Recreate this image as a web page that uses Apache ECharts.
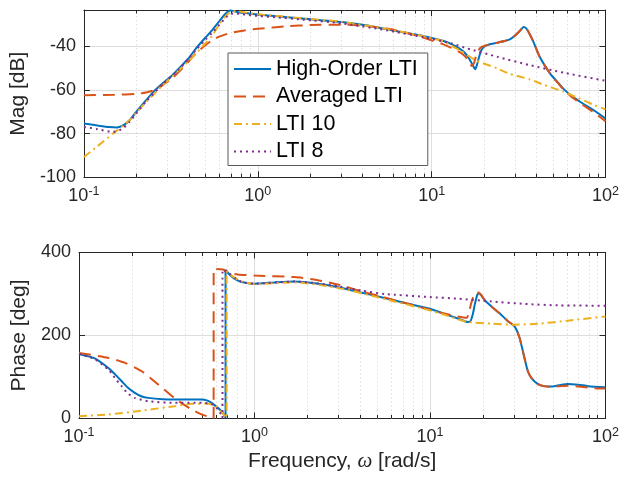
<!DOCTYPE html>
<html><head><meta charset="utf-8">
<script src="https://cdn.jsdelivr.net/npm/echarts@6/dist/echarts.min.js"></script>
<style>html,body{margin:0;padding:0;background:#fff}#c{width:622px;height:486px}</style>
</head><body><div id="c"></div>
<script>
const seriesNames = ['High-Order LTI', 'Averaged LTI', 'LTI 10', 'LTI 8'];
const xTickDecades = [0.1, 1, 10, 100];
const magTicks = [-100, -80, -60, -40];
const phaseTicks = [0, 200, 400];

// Magnitude [dB] vs frequency [rad/s]
const magHighOrder = [[0.1,-75.4],[0.12,-76.3],[0.14,-77.0],[0.155,-77.2],[0.17,-76.0],[0.183,-73.9],[0.2,-70.0],[0.228,-64.7],[0.25,-61.0],[0.283,-57.1],[0.32,-53.5],[0.352,-50.2],[0.4,-45.5],[0.438,-41.3],[0.5,-36.0],[0.545,-32.7],[0.6,-28.6],[0.64,-25.8],[0.67,-24.2],[0.693,-23.6],[0.72,-23.8],[0.76,-24.3],[0.844,-24.8],[1.0,-25.5],[1.3,-26.3],[1.8,-27.3],[3.05,-28.9],[4.2,-30.4],[5.51,-32.2],[7.3,-34.0],[9.31,-35.6],[11.6,-37.5],[13.0,-39.0],[14.4,-41.0],[15.5,-43.0],[16.4,-45.6],[17.2,-48.5],[17.8,-50.5],[18.3,-48.0],[18.8,-44.5],[19.3,-41.8],[20.2,-40.0],[21.4,-39.2],[23.8,-38.4],[26.6,-37.5],[28.5,-36.6],[30.3,-35.0],[32.3,-32.8],[33.8,-31.2],[35.0,-31.8],[36.1,-33.5],[38.5,-38.0],[41.8,-44.8],[47.9,-52.4],[53.5,-56.8],[57.3,-59.5],[64.0,-62.8],[71.3,-65.4],[80.0,-67.9],[88.2,-70.0],[100,-73.1]];
const magAveraged = [[0.1,-62.4],[0.15,-62.2],[0.2,-61.8],[0.228,-61.2],[0.26,-59.8],[0.283,-57.8],[0.32,-54.8],[0.352,-51.7],[0.4,-47.0],[0.438,-43.4],[0.5,-39.5],[0.545,-37.3],[0.6,-35.6],[0.677,-34.2],[0.8,-33.0],[1.0,-32.0],[1.5,-30.8],[2.0,-30.3],[3.05,-30.1],[4.0,-30.6],[5.5,-31.9],[7.0,-33.6],[9.31,-36.5],[11.6,-39.0],[14.4,-42.6],[15.5,-44.5],[16.4,-47.0],[17.0,-49.0],[17.5,-47.8],[18.0,-44.5],[18.6,-41.8],[19.5,-40.2],[21.4,-39.2],[23.8,-38.4],[26.6,-37.5],[28.5,-36.6],[30.3,-35.0],[32.3,-32.8],[33.8,-31.2],[35.0,-31.8],[36.1,-33.5],[38.5,-38.0],[41.8,-44.8],[47.9,-52.4],[53.5,-57.0],[57.3,-59.8],[64.0,-63.2],[71.3,-66.0],[80.0,-68.7],[88.2,-71.0],[100,-74.3]];
const magLTI10 = [[0.1,-90.7],[0.12,-85.7],[0.147,-80.0],[0.165,-76.8],[0.183,-73.9],[0.2,-70.5],[0.228,-65.5],[0.283,-58.0],[0.352,-51.0],[0.438,-43.6],[0.5,-38.6],[0.545,-35.3],[0.6,-30.0],[0.647,-26.6],[0.7,-24.2],[0.76,-24.0],[0.85,-24.6],[1.0,-25.4],[1.3,-26.2],[1.8,-27.2],[3.05,-28.8],[5.51,-32.1],[9.31,-35.7],[11.6,-37.7],[14.6,-42.0],[18.0,-46.5],[23.8,-50.1],[28.0,-52.6],[36.5,-55.1],[43.0,-57.3],[57.3,-60.8],[70.0,-63.8],[85.0,-66.7],[100,-68.9]];
const magLTI8 = [[0.1,-76.9],[0.12,-78.0],[0.147,-79.2],[0.167,-77.7],[0.183,-74.6],[0.2,-70.8],[0.228,-65.2],[0.283,-57.5],[0.352,-50.6],[0.438,-42.0],[0.5,-37.0],[0.545,-33.9],[0.6,-30.2],[0.66,-26.6],[0.7,-25.2],[0.75,-25.0],[0.844,-25.5],[1.0,-26.1],[1.3,-26.8],[1.8,-27.8],[3.05,-29.5],[5.51,-32.7],[9.31,-36.1],[12.9,-38.6],[16.0,-41.0],[23.8,-44.8],[36.5,-48.6],[57.3,-52.1],[100,-55.8]];

// Phase [deg] vs frequency [rad/s]
const phaseHighOrder = [[0.1,155.6],[0.123,145],[0.147,121.9],[0.16,107],[0.175,89.8],[0.19,74],[0.208,61.8],[0.228,53],[0.248,49.7],[0.3,46.5],[0.352,45.7],[0.5,45.7],[0.54,43],[0.569,37.7],[0.61,28],[0.647,17.6],[0.67,9],[0.684,2],[0.684,358.4],[0.71,350],[0.74,342.3],[0.79,334],[0.844,328.8],[0.92,326],[1.0,324.7],[1.3,328],[1.69,330.3],[2.2,326],[3.05,315.8],[4.1,303],[5.51,290.3],[7.4,277],[9.97,264.6],[12.5,250],[14.4,241],[16.4,232.6],[16.9,233],[17.5,250],[18.0,275],[18.5,295],[18.9,302.3],[19.6,297],[20.5,285],[22.4,270],[25,253],[27.6,235.7],[30.3,222],[32.4,194],[34.7,141.9],[36.1,113.8],[37.8,97.8],[41,83.4],[44.4,78],[48.6,77],[54,80],[60.8,83.4],[70,81.5],[79.5,78],[100,75.3]];
const phaseAveraged = [[0.1,158],[0.147,146],[0.183,134],[0.228,113.8],[0.283,81.8],[0.352,48.1],[0.438,21.6],[0.5,10],[0.545,4.5],[0.585,1.5],[0.585,360],[0.66,359],[0.72,351],[0.8,347],[1.0,344.5],[1.69,340.8],[2.26,334],[3.05,322],[4.1,306],[5.51,291.8],[7.4,277],[9.97,262],[12,253],[14.4,246],[16.2,243],[16.6,252],[17.1,275],[17.6,292],[18.2,302],[18.7,304],[19.6,297],[20.5,285],[22.4,270],[25,253],[27.6,235.7],[30.3,222],[32.4,194],[34.7,141.9],[36.1,113.8],[37.8,97.8],[41,83.4],[44.4,78],[48.6,76.5],[54,77.5],[60.8,79],[70,77],[79.5,74.5],[93,72],[100,72]];
const phaseLTI10 = [[0.1,5.6],[0.147,9.6],[0.228,19.2],[0.352,29.7],[0.438,35.3],[0.545,35.3],[0.6,30],[0.621,25.7],[0.65,16],[0.677,5.6],[0.693,1],[0.693,354],[0.72,348],[0.78,338],[0.844,330],[1.0,324],[1.69,328],[3.05,314],[5.51,288],[9.97,260.5],[12.5,248],[16.4,232.6],[22.4,228.5],[30.3,226],[43,229],[60.8,235.7],[100,246]];
const phaseLTI8 = [[0.1,155.6],[0.123,143],[0.147,117.9],[0.16,98],[0.175,77.8],[0.19,60],[0.208,49.7],[0.248,41.7],[0.352,37.7],[0.5,37.7],[0.569,35.3],[0.621,21.6],[0.645,10],[0.657,2],[0.657,358],[0.68,355],[0.72,349],[0.78,338],[0.844,329],[1.0,325],[1.69,330],[2.26,326],[3.05,318],[4.1,308],[5.51,300],[9.97,292.7],[14.4,288.6],[22.4,282],[34.7,276],[53.5,272.6],[100,271.8]];

const magData = [magHighOrder, magAveraged, magLTI10, magLTI8];
const phaseData = [phaseHighOrder, phaseAveraged, phaseLTI10, phaseLTI8];

const FONT = '"Liberation Sans", Arial, Helvetica, sans-serif';
const TXT = '#262626';
const colors = ['#0072BD', '#D95319', '#EDB120', '#7E2F8E'];
const lineTypes = ['solid', [12, 7], [8, 4, 2, 4], [2, 4]];
const magMin = -100, magMax = -23.4, phMin = 0, phMax = 400;

// minor log ticks 2..9 per decade
const minorTicks = [];
for (let k = 0; k < xTickDecades.length - 1; k++) {
  for (let m = 2; m <= 9; m++) minorTicks.push(Number((m * xTickDecades[k]).toPrecision(3)));
}

function minorRender(yMin, yMax) {
  return function (params, api) {
    const v = api.value(0);
    const p0 = api.coord([v, yMin]);
    const p1 = api.coord([v, yMax]);
    const x = Math.round(p0[0]) + 0.5;
    return {
      type: 'group', children: [
        { type: 'line', shape: { x1: x, y1: p0[1], x2: x, y2: p1[1] }, style: { stroke: '#cfcfcf', lineWidth: 1, lineDash: [1, 3] } },
        { type: 'line', shape: { x1: x, y1: p0[1], x2: x, y2: p0[1] - 3.5 }, style: { stroke: TXT, lineWidth: 1 } },
        { type: 'line', shape: { x1: x, y1: p1[1], x2: x, y2: p1[1] + 3.5 }, style: { stroke: TXT, lineWidth: 1 } }
      ]
    };
  };
}

function xAxisBottom(gridIndex, withName) {
  const ax = {
    type: 'log', logBase: 10, gridIndex, min: 0.1, max: 100, position: 'bottom',
    axisLine: { show: true, onZero: false, lineStyle: { color: TXT, width: 1 } },
    axisTick: { show: true, inside: true, length: 6, lineStyle: { color: TXT } },
    splitLine: { show: true, lineStyle: { color: '#dedede', width: 1 } },
    axisLabel: {
      margin: 8, color: TXT,
      formatter: v => '{b|10}{s|' + Math.round(Math.log10(v)) + '}',
      rich: {
        b: { fontSize: 18, fontFamily: FONT, color: TXT },
        s: { fontSize: 12.5, fontFamily: FONT, color: TXT, padding: [0, 0, 9, 0] }
      }
    }
  };
  if (withName) {
    ax.name = '{n|Frequency, }{w|ω}{n| [rad/s]}';
    ax.nameLocation = 'middle';
    ax.nameGap = 32;
    ax.nameTextStyle = {
      rich: {
        n: { fontSize: 21, fontFamily: FONT, color: TXT },
        w: { fontSize: 21, fontFamily: '"Liberation Serif", "DejaVu Serif", serif', fontStyle: 'italic', color: TXT }
      }
    };
  }
  return ax;
}
function xAxisTop(gridIndex) {
  return {
    type: 'log', logBase: 10, gridIndex, min: 0.1, max: 100, position: 'top',
    axisLine: { show: true, onZero: false, lineStyle: { color: TXT, width: 1 } },
    axisTick: { show: true, inside: true, length: 6, lineStyle: { color: TXT } },
    splitLine: { show: false }, axisLabel: { show: false }
  };
}
function yAxisLeft(gridIndex, min, max, interval, name) {
  return {
    type: 'value', gridIndex, min, max, interval, position: 'left',
    name, nameLocation: 'middle', nameGap: 48,
    nameTextStyle: { fontSize: 21, fontFamily: FONT, color: TXT },
    axisLine: { show: true, onZero: false, lineStyle: { color: TXT, width: 1 } },
    axisTick: { show: true, inside: true, length: 6, lineStyle: { color: TXT } },
    splitLine: { show: true, lineStyle: { color: '#dedede', width: 1 } },
    axisLabel: { fontSize: 18, fontFamily: FONT, color: TXT, margin: 8, showMaxLabel: max % interval === 0 }
  };
}
function yAxisRight(gridIndex, min, max, interval) {
  return {
    type: 'value', gridIndex, min, max, interval, position: 'right',
    axisLine: { show: true, onZero: false, lineStyle: { color: TXT, width: 1 } },
    axisTick: { show: true, inside: true, length: 6, lineStyle: { color: TXT } },
    splitLine: { show: false }, axisLabel: { show: false }
  };
}

const series = [];
series.push({ type: 'custom', xAxisIndex: 0, yAxisIndex: 0, z: 1, silent: true, renderItem: minorRender(magMin, magMax), data: minorTicks.map(v => [v, magMin]), clip: false });
series.push({ type: 'custom', xAxisIndex: 2, yAxisIndex: 2, z: 1, silent: true, renderItem: minorRender(phMin, phMax), data: minorTicks.map(v => [v, phMin]), clip: false });

seriesNames.forEach((name, i) => {
  const common = {
    name, type: 'line', symbol: 'none', showSymbol: false, smooth: 0.2, z: 3 + i,
    lineStyle: { color: colors[i], width: 2, type: lineTypes[i] },
    itemStyle: { color: colors[i] }, animation: false
  };
  series.push(Object.assign({}, common, { xAxisIndex: 0, yAxisIndex: 0, data: magData[i] }));
  series.push(Object.assign({}, common, { xAxisIndex: 2, yAxisIndex: 2, data: phaseData[i] }));
});

const chart = echarts.init(document.getElementById('c'), null, { renderer: 'canvas' });
chart.setOption({
  animation: false,
  backgroundColor: '#fff',
  grid: [
    { left: 79, right: 16, top: 10, height: 167.3 },
    { left: 79, right: 16, top: 252.5, height: 166 }
  ],
  xAxis: [xAxisBottom(0, false), xAxisTop(0), xAxisBottom(1, true), xAxisTop(1)],
  yAxis: [
    yAxisLeft(0, magMin, magMax, 20, 'Mag [dB]'), yAxisRight(0, magMin, magMax, 20),
    yAxisLeft(1, phMin, phMax, 200, 'Phase [deg]'), yAxisRight(1, phMin, phMax, 200)
  ],
  legend: {
    data: seriesNames, orient: 'vertical', left: 228, top: 53,
    padding: [5, 10, 3, 5], itemGap: 5.5, itemWidth: 37, itemHeight: 14,
    itemStyle: { opacity: 0 },
    backgroundColor: '#fff', borderColor: '#5a5a5a', borderWidth: 1, borderRadius: 0,
    textStyle: { fontSize: 21.5, fontFamily: FONT, color: '#000' }
  },
  series
});
</script>
</body></html>
